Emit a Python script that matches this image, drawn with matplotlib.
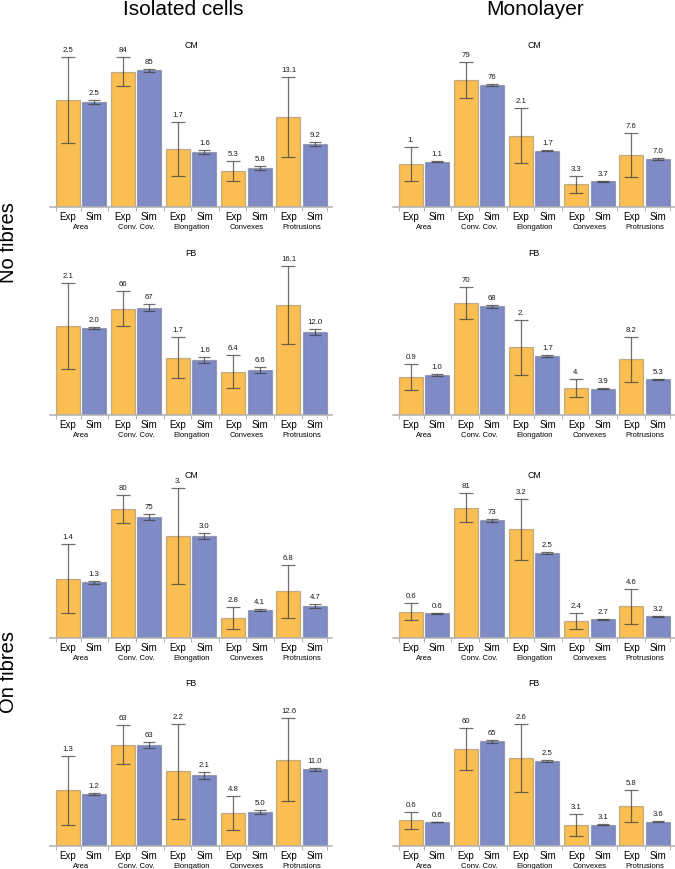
import matplotlib
matplotlib.use("Agg")
import matplotlib.pyplot as plt

plt.rcParams['font.family'] = ['Liberation Sans', 'DejaVu Sans']

# ---------------- data ----------------
measures = ["Area", "Conv. Cov.", "Elongation", "Convexes", "Protrusions"]
series_names = ["Exp", "Sim"]
column_titles = ["Isolated cells", "Monolayer"]
row_titles = ["No fibres", "On fibres"]
cell_types = ["CM", "FB"]
# bar height (display units) per unit of each measure
measure_scale = [42.8, 1.61, 34.0, 6.83, 6.86]

# Isolated cells, no fibres, CM
iso_nof_cm_exp = [2.50, 84.0, 1.70, 5.30, 13.1]
iso_nof_cm_exp_sd = [1.00, 9.1, 0.79, 1.50, 5.8]
iso_nof_cm_sim = [2.45, 85.0, 1.63, 5.72, 9.18]
iso_nof_cm_sim_sd = [0.05, 0.9, 0.06, 0.30, 0.30]
iso_nof_cm_exp_lbl = ["2.5", "84", "1.7", "5.3", "13.1"]
iso_nof_cm_sim_lbl = ["2.5", "85", "1.6", "5.8", "9.2"]

# Monolayer, no fibres, CM
mono_nof_cm_exp = [1.00, 79.0, 2.10, 3.32, 7.62]
mono_nof_cm_exp_sd = [0.40, 11.0, 0.81, 1.29, 3.2]
mono_nof_cm_sim = [1.06, 76.0, 1.66, 3.76, 7.0]
mono_nof_cm_sim_sd = [0.02, 0.6, 0.02, 0.07, 0.1]
mono_nof_cm_exp_lbl = ["1.", "79", "2.1", "3.3", "7.6"]
mono_nof_cm_sim_lbl = ["1.1", "76", "1.7", "3.7", "7.0"]

# Isolated cells, no fibres, FB
iso_nof_fb_exp = [2.08, 66.0, 1.69, 6.35, 16.0]
iso_nof_fb_exp_sd = [1.00, 11.0, 0.60, 2.40, 5.7]
iso_nof_fb_sim = [2.03, 66.7, 1.61, 6.60, 12.1]
iso_nof_fb_sim_sd = [0.03, 2.0, 0.09, 0.40, 0.44]
iso_nof_fb_exp_lbl = ["2.1", "66", "1.7", "6.4", "16.1"]
iso_nof_fb_sim_lbl = ["2.0", "67", "1.6", "6.6", "12.0"]

# Monolayer, no fibres, FB
mono_nof_fb_exp = [0.88, 69.4, 1.99, 3.90, 8.1]
mono_nof_fb_exp_sd = [0.30, 10.0, 0.80, 1.30, 3.3]
mono_nof_fb_sim = [0.94, 67.5, 1.74, 3.87, 5.2]
mono_nof_fb_sim_sd = [0.02, 0.9, 0.02, 0.07, 0.1]
mono_nof_fb_exp_lbl = ["0.9", "70", "2.", "4.", "8.2"]
mono_nof_fb_sim_lbl = ["1.0", "68", "1.7", "3.9", "5.3"]

# Isolated cells, on fibres, CM
iso_onf_cm_exp = [1.39, 80.1, 3.00, 2.88, 6.8]
iso_onf_cm_exp_sd = [0.80, 8.9, 1.40, 1.60, 3.9]
iso_onf_cm_sim = [1.30, 75.2, 3.00, 4.10, 4.7]
iso_onf_cm_sim_sd = [0.03, 1.9, 0.10, 0.10, 0.3]
iso_onf_cm_exp_lbl = ["1.4", "80", "3.", "2.8", "6.8"]
iso_onf_cm_sim_lbl = ["1.3", "75", "3.0", "4.1", "4.7"]

# Monolayer, on fibres, CM
mono_onf_cm_exp = [0.61, 80.9, 3.20, 2.45, 4.6]
mono_onf_cm_exp_sd = [0.20, 9.1, 0.90, 1.17, 2.5]
mono_onf_cm_sim = [0.58, 73.1, 2.50, 2.74, 3.16]
mono_onf_cm_sim_sd = [0.01, 0.9, 0.04, 0.05, 0.07]
mono_onf_cm_exp_lbl = ["0.6", "81", "3.2", "2.4", "4.6"]
mono_onf_cm_sim_lbl = ["0.6", "73", "2.5", "2.7", "3.2"]

# Isolated cells, on fibres, FB
iso_onf_fb_exp = [1.30, 62.9, 2.20, 4.83, 12.6]
iso_onf_fb_exp_sd = [0.80, 12.0, 1.40, 2.50, 6.0]
iso_onf_fb_sim = [1.22, 62.9, 2.08, 5.00, 11.2]
iso_onf_fb_sim_sd = [0.02, 2.0, 0.10, 0.34, 0.2]
iso_onf_fb_exp_lbl = ["1.3", "63", "2.2", "4.8", "12.6"]
iso_onf_fb_sim_lbl = ["1.2", "63", "2.1", "5.0", "11.0"]

# Monolayer, on fibres, FB
mono_onf_fb_exp = [0.60, 60.2, 2.60, 3.12, 5.83]
mono_onf_fb_exp_sd = [0.20, 12.9, 1.00, 1.60, 2.3]
mono_onf_fb_sim = [0.56, 65.0, 2.50, 3.12, 3.55]
mono_onf_fb_sim_sd = [0.01, 0.9, 0.04, 0.05, 0.06]
mono_onf_fb_exp_lbl = ["0.6", "60", "2.6", "3.1", "5.8"]
mono_onf_fb_sim_lbl = ["0.6", "65", "2.5", "3.1", "3.6"]

panels = [
    [(iso_nof_cm_exp, iso_nof_cm_exp_sd, iso_nof_cm_sim, iso_nof_cm_sim_sd, iso_nof_cm_exp_lbl, iso_nof_cm_sim_lbl),
     (mono_nof_cm_exp, mono_nof_cm_exp_sd, mono_nof_cm_sim, mono_nof_cm_sim_sd, mono_nof_cm_exp_lbl, mono_nof_cm_sim_lbl)],
    [(iso_nof_fb_exp, iso_nof_fb_exp_sd, iso_nof_fb_sim, iso_nof_fb_sim_sd, iso_nof_fb_exp_lbl, iso_nof_fb_sim_lbl),
     (mono_nof_fb_exp, mono_nof_fb_exp_sd, mono_nof_fb_sim, mono_nof_fb_sim_sd, mono_nof_fb_exp_lbl, mono_nof_fb_sim_lbl)],
    [(iso_onf_cm_exp, iso_onf_cm_exp_sd, iso_onf_cm_sim, iso_onf_cm_sim_sd, iso_onf_cm_exp_lbl, iso_onf_cm_sim_lbl),
     (mono_onf_cm_exp, mono_onf_cm_exp_sd, mono_onf_cm_sim, mono_onf_cm_sim_sd, mono_onf_cm_exp_lbl, mono_onf_cm_sim_lbl)],
    [(iso_onf_fb_exp, iso_onf_fb_exp_sd, iso_onf_fb_sim, iso_onf_fb_sim_sd, iso_onf_fb_exp_lbl, iso_onf_fb_sim_lbl),
     (mono_onf_fb_exp, mono_onf_fb_exp_sd, mono_onf_fb_sim, mono_onf_fb_sim_sd, mono_onf_fb_exp_lbl, mono_onf_fb_sim_lbl)],
]
panel_titles = ["CM", "FB", "CM", "FB"]

# ---------------- style / layout ----------------
W, H = 675, 870
fig = plt.figure(figsize=(W / 100, H / 100), dpi=100)

ORANGE = "#FABE52"
BLUE = "#7E8BC6"
EDGE = (0.3, 0.3, 0.3, 0.35)
ERR = (0.25, 0.25, 0.25, 0.75)

col_left = [50, 393]
ax_w = 282
baselines = [208, 416, 639, 847]
ax_h = 170
px_per_x = 24.0
pitch = 2.3
off = 1.1
x0 = -0.235

n = len(measures)
x_exp = [i * pitch + 0.5 for i in range(n)]
x_sim = [i * pitch + 0.5 + off for i in range(n)]
tick_pos = [0.0]
for i in range(n):
    tick_pos.append(i * pitch + 1.05)
    if i < n - 1:
        tick_pos.append(i * pitch + 2.2)
tick_pos.append((n - 1) * pitch + 2.1)

for r in range(4):
    for c in range(2):
        exp, exp_sd, sim, sim_sd, exp_lbl, sim_lbl = panels[r][c]
        ax = fig.add_axes([col_left[c] / W, 1 - baselines[r] / H, ax_w / W, ax_h / H])
        ax.set_xlim(x0, x0 + ax_w / px_per_x)
        ax.set_ylim(0, ax_h)

        he = [v * s for v, s in zip(exp, measure_scale)]
        hs = [v * s for v, s in zip(sim, measure_scale)]
        ee = [v * s for v, s in zip(exp_sd, measure_scale)]
        es = [v * s for v, s in zip(sim_sd, measure_scale)]

        ax.bar(x_exp, he, width=1.0, color=ORANGE, edgecolor=EDGE, linewidth=0.9, zorder=2)
        ax.bar(x_sim, hs, width=1.0, color=BLUE, edgecolor=EDGE, linewidth=0.9, zorder=2)
        ax.errorbar(x_exp, he, yerr=ee, fmt="none", ecolor=ERR, elinewidth=0.9,
                    capsize=5, capthick=0.9, zorder=3)
        ax.errorbar(x_sim, hs, yerr=es, fmt="none", ecolor=ERR, elinewidth=0.9,
                    capsize=4.5, capthick=0.9, zorder=3)

        for x, h, e, lb in zip(x_exp, he, ee, exp_lbl):
            ax.text(x, h + e + 7.5, lb, ha="center", va="center", fontsize=5.6, color="#1a1a1a")
        for x, h, e, lb in zip(x_sim, hs, es, sim_lbl):
            ax.text(x, h + e + 7.5, lb, ha="center", va="center", fontsize=5.6, color="#1a1a1a")

        # category labels
        for i in range(n):
            ax.text(x_exp[i], -8.7, series_names[0], ha="center", va="center", fontsize=7, clip_on=False)
            ax.text(x_sim[i], -8.7, series_names[1], ha="center", va="center", fontsize=7, clip_on=False)
            ax.text((x_exp[i] + x_sim[i]) / 2, -19.5, measures[i], ha="center", va="center",
                    fontsize=5.5, clip_on=False)

        ax.text((ax.get_xlim()[0] + ax.get_xlim()[1]) / 2, 163, panel_titles[r],
                ha="center", va="center", fontsize=6.3)

        for side in ["top", "left", "right"]:
            ax.spines[side].set_visible(False)
        ax.spines["bottom"].set_color("#B0B0B0")
        ax.spines["bottom"].set_linewidth(1.1)
        ax.set_yticks([])
        ax.set_xticks(tick_pos)
        ax.set_xticklabels([])
        ax.tick_params(axis="x", direction="out", length=3, width=0.7, color="#B0B0B0")

# column titles
fig.text(183.5 / W, 1 - 15 / H, column_titles[0], ha="center", va="baseline", fontsize=15)
fig.text(535 / W, 1 - 15 / H, column_titles[1], ha="center", va="baseline", fontsize=15)
# row titles
fig.text(9 / W, 1 - 243 / H, row_titles[0], ha="center", va="center", rotation=90, fontsize=14.5)
fig.text(9 / W, 1 - 672 / H, row_titles[1], ha="center", va="center", rotation=90, fontsize=14.5)

fig.savefig("out.png", dpi=100)
